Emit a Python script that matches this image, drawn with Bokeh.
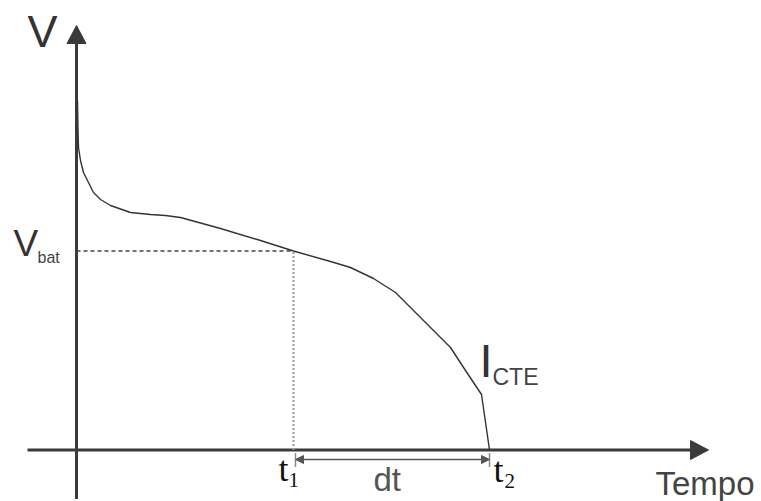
from bokeh.plotting import figure
from bokeh.models import Range1d, Arrow, NormalHead
from bokeh.core.properties import value
from bokeh.embed import file_html
from bokeh.resources import INLINE

# Discharge curve (arbitrary time / voltage units, origin at the axis crossing)
time = [1, 1.5, 2, 4, 7, 11, 17, 24, 34, 54, 74, 89, 104, 144, 184, 217,
        254, 274, 297, 319, 337, 354, 374, 389, 405, 413]
volt = [349.5, 319.5, 302.5, 289.5, 277.5, 269.5, 257.5, 250.5, 244.5, 237.5,
        235.5, 234.5, 232.5, 221.5, 209.5, 199, 188.5, 182.5, 171.5, 157.5,
        139.5, 122.5, 102.5, 79.5, 55.5, 0]
t1 = 217
t2 = 413
vbat = 199

# axis extents (schematic)
x_axis_start, x_axis_end = -49, 632
y_axis_start, y_axis_end = -49, 424.5
head_len, head_half = 18, 9.5

W, H = 761, 501
p = figure(width=W, height=H, x_range=Range1d(-76, W - 76), y_range=Range1d(-51.5, H - 51.5),
           output_backend="svg", toolbar_location=None, x_axis_type=None, y_axis_type=None,
           min_border=0, min_border_left=0, min_border_right=0, min_border_top=0, min_border_bottom=0)
p.grid.visible = False
p.outline_line_color = None
p.background_fill_color = "white"

axis_col = "#3a3a3a"
# axes lines
p.line([x_axis_start, x_axis_end - head_len], [0, 0], line_color=axis_col, line_width=3)
p.line([0, 0], [y_axis_start, y_axis_end - head_len], line_color=axis_col, line_width=3)
# arrow heads
p.patch([x_axis_end - head_len, x_axis_end, x_axis_end - head_len], [-head_half, 0, head_half],
        fill_color=axis_col, line_color=axis_col)
p.patch([-head_half, 0, head_half], [y_axis_end - head_len, y_axis_end, y_axis_end - head_len],
        fill_color=axis_col, line_color=axis_col)

# guide lines
p.line([0, t1], [vbat, vbat], line_color="#444444", line_width=1.5, line_dash="4 3")
p.line([t1, t1], [0, vbat], line_color="#9a9a9a", line_width=2, line_dash="2 2")

# curve
p.line(time, volt, line_color="#333333", line_width=1.4)

# dt arrow
p.segment(x0=[t1 + 2, t2], y0=[-3, -3], x1=[t1 + 2, t2], y1=[-17, -17], line_color="#8a8a8a", line_width=1.5)
p.add_layout(Arrow(x_start=t1 + 2, x_end=t2, y_start=-9.5, y_end=-9.5, line_color="#555555", line_width=1.5,
                   start=NormalHead(size=8, fill_color="#555555", line_color="#555555"),
                   end=NormalHead(size=8, fill_color="#555555", line_color="#555555")))

sans = value("Liberation Sans")
serif = value("Liberation Serif")


def txt(x, y, s, size, color, font=sans):
    p.text(x=[x], y=[y + 0.37 * size], text=[s], text_font=font, text_font_size=f"{size}px",
           text_color=color, text_align="left", text_baseline="alphabetic")


txt(-49, 401.5, "V", 45, "#333333")
txt(-63, 192.5, "V", 37, "#333333")
txt(-39, 186.5, "bat", 16, "#444444")
txt(202, -32.5, "t", 36, "#111111", serif)
txt(212, -37.5, "1", 21, "#111111", serif)
txt(417, -33.5, "t", 36, "#111111", serif)
txt(428, -38.5, "2", 21, "#111111", serif)
txt(297, -41.5, "dt", 33, "#555555")
txt(403, 72.5, "I", 47, "#333333")
txt(416, 64.5, "CTE", 23, "#444444")
txt(579, -45.5, "Tempo", 33, "#444444")

open("out.html", "w").write(file_html(p, INLINE))
